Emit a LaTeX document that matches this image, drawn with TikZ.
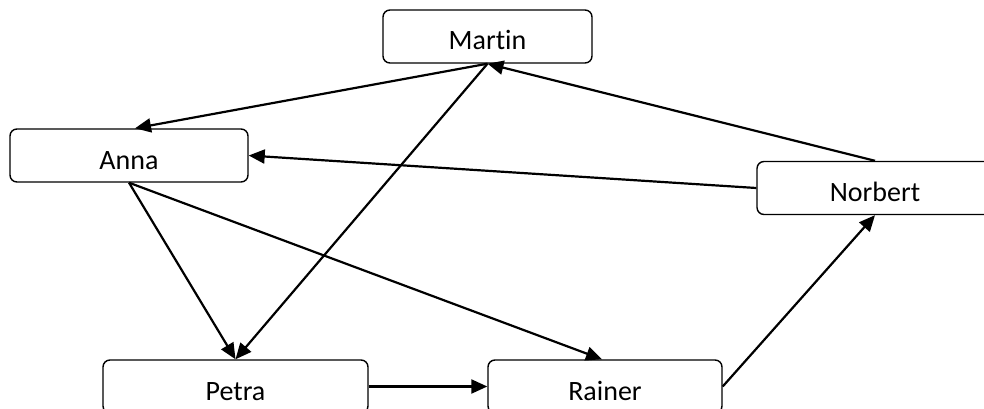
\documentclass[tikz,border=0pt]{standalone}
\usepackage{fontspec}
\setmainfont[Ligatures=NoCommon]{Carlito}
\usetikzlibrary{arrows.meta}
\tikzset{
  person/.style={draw, line width=1.4pt, rounded corners=7pt, inner sep=0pt,
    minimum height=53pt, text height=27pt, text depth=0pt,
    font=\fontsize{28}{32}\selectfont},
  link/.style={line width=2.2pt, -{Triangle[length=16pt,width=14pt]}}
}
\begin{document}
\begin{tikzpicture}[x=1pt,y=-1pt]
  \useasboundingbox (0,0) rectangle (984,409);
  \clip (0,0) rectangle (984,409);
  % people
  \node[person, minimum width=209pt] (martin)  at (487.5,36.5)  {Martin};
  \node[person, minimum width=238pt] (anna)    at (129,155.5)   {Anna};
  \node[person, minimum width=236pt] (norbert) at (875,188)     {Norbert};
  \node[person, minimum width=265pt] (petra)   at (235.5,386.5) {Petra};
  \node[person, minimum width=234pt] (rainer)  at (605,386.5)   {Rainer};
  % relations
  \draw[link] (martin.south) -- ([xshift=6pt]anna.north);
  \draw[link] (martin.south) -- (petra.north);
  \draw[link] (norbert.north) -- (martin.south);
  \draw[link] (norbert.west) -- (anna.east);
  \draw[link] (anna.south) -- (petra.north);
  \draw[link] (anna.south) -- ([xshift=-3pt]rainer.north);
  \draw[link] (petra.east) -- (rainer.west);
  \draw[link] (rainer.east) -- (norbert.south);
\end{tikzpicture}
\end{document}
